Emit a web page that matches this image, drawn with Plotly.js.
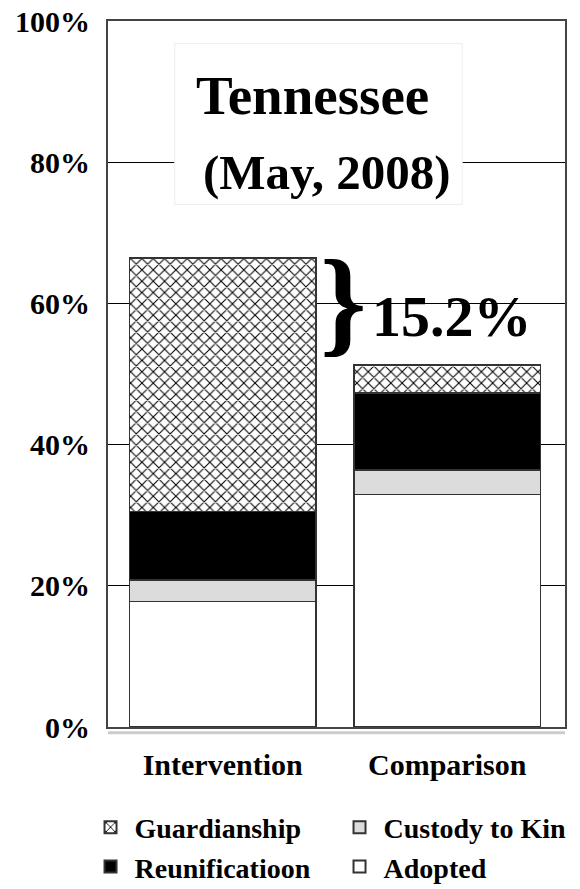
<!DOCTYPE html>
<html>
<head>
<meta charset="utf-8">
<script src="https://cdn.plot.ly/plotly-3.0.1.min.js"></script>
<style>html,body{margin:0;padding:0;background:#fff;}#chart{width:580px;height:889px;}</style>
</head>
<body>
<div id="chart"></div>
<script>
// Data
var groups = ["Intervention", "Comparison"];
var adopted = [17.8, 32.9];
var custodyToKin = [3.0, 3.5];
var reunification = [9.7, 10.9];
var guardianship = [35.9, 4.0];
var yTickVals = [0, 20, 40, 60, 80, 100];
var yTickText = ["0%", "20%", "40%", "60%", "80%", "100%"];
var chartTitle = ["Tennessee", "(May, 2008)"];
var diffLabel = "15.2%";

var serif = "Liberation Serif, Times New Roman, serif";
var lineCol = "#333";
var barWidth = 0.83;

var traces = [
  {type: "bar", name: "Adopted", x: groups, y: adopted, width: barWidth, legendrank: 4,
   marker: {color: "#ffffff", line: {color: lineCol, width: 1.5}}},
  {type: "bar", name: "Custody to Kin", x: groups, y: custodyToKin, width: barWidth, legendrank: 2,
   marker: {color: "#dcdcdc", line: {color: lineCol, width: 1.5}}},
  {type: "bar", name: "Reunificatioon", x: groups, y: reunification, width: barWidth, legendrank: 3,
   marker: {color: "#000000", line: {color: lineCol, width: 1.5}}},
  {type: "bar", name: "Guardianship", x: groups, y: guardianship, width: barWidth, legendrank: 1,
   marker: {color: "#ffffff", line: {color: lineCol, width: 1.5},
            pattern: {shape: "x", fgcolor: "#000000", bgcolor: "#ffffff", size: 8, solidity: 0.25}}}
];

var layout = {
  width: 580, height: 889,
  margin: {l: 108, r: 15, t: 21, b: 162, autoexpand: false},
  paper_bgcolor: "#ffffff", plot_bgcolor: "#ffffff",
  barmode: "stack",
  showlegend: true,
  font: {family: serif, color: "#000"},
  xaxis: {
    type: "category", range: [-0.511, 1.525],
    showline: true, mirror: true, linecolor: "#444", linewidth: 2,
    showgrid: false, zeroline: false, ticks: "",
    ticklabelstandoff: 10,
    tickfont: {family: serif, size: 30, weight: "bold", color: "#000"}
  },
  yaxis: {
    range: [0, 100], tickvals: yTickVals, ticktext: yTickText,
    showline: true, mirror: true, linecolor: "#444", linewidth: 2,
    showgrid: true, gridcolor: "#000", gridwidth: 1, zeroline: false, ticks: "",
    ticklabelstandoff: 10,
    tickfont: {family: serif, size: 30, weight: "bold", color: "#000"}
  },
  legend: {
    orientation: "h", traceorder: "normal",
    x: -0.047, xanchor: "left", y: -0.233, yanchor: "bottom",
    entrywidth: 196, entrywidthmode: "pixels", itemwidth: 38,
    borderwidth: 0,
    font: {family: serif, size: 28, weight: "bold", color: "#000"},
    itemsizing: "constant", tracegroupgap: 0
  },
  shapes: [
    {type: "rect", xref: "paper", yref: "y", x0: 0.146, x1: 0.775, y0: 74.0, y1: 96.8,
     fillcolor: "#ffffff", line: {color: "#eeeeee", width: 1}, layer: "above"},
    {type: "line", xref: "paper", yref: "paper", x0: 0, x1: 1.0, y0: -0.008, y1: -0.008,
     line: {color: "#cccccc", width: 3}}
  ],
  annotations: [
    {text: chartTitle[0], xref: "paper", yref: "y", x: 0.448, y: 89.5, xanchor: "center", yanchor: "middle", showarrow: false,
     font: {family: serif, size: 55, weight: "bold", color: "#000"}},
    {text: chartTitle[1], xref: "paper", yref: "y", x: 0.48, y: 78.6, xanchor: "center", yanchor: "middle", showarrow: false,
     font: {family: serif, size: 49, weight: "bold", color: "#000"}},
    {text: "}", xref: "paper", yref: "y", x: 0.516, y: 60.2, xanchor: "center", yanchor: "middle", showarrow: false,
     font: {family: serif, size: 118, weight: "bold", color: "#000"}},
    {text: diffLabel, xref: "paper", yref: "y", x: 0.752, y: 58.2, xanchor: "center", yanchor: "middle", showarrow: false,
     font: {family: serif, size: 58, weight: "bold", color: "#000"}}
  ]
};

Plotly.newPlot("chart", traces, layout, {displayModeBar: false, staticPlot: true});
</script>
</body>
</html>
